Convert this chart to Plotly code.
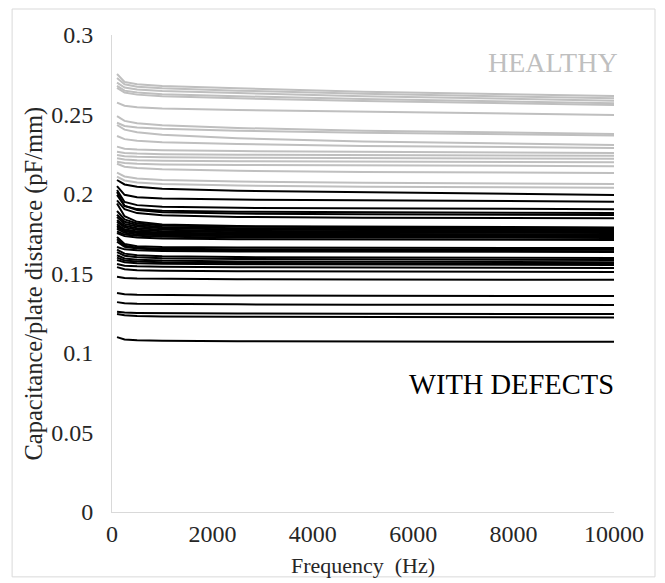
import plotly.graph_objects as go

# Frequencies (Hz) at which each curve is sampled
freq = [100, 250, 500, 1000, 2500, 5000, 10000]

# Healthy specimens (capacitance / plate distance, pF/mm)
healthy = [
    [0.2755, 0.2705, 0.2690, 0.2680, 0.2665, 0.2643, 0.2616],
    [0.2730, 0.2690, 0.2675, 0.2665, 0.2650, 0.2630, 0.2602],
    [0.2700, 0.2670, 0.2658, 0.2648, 0.2635, 0.2615, 0.2587],
    [0.2680, 0.2650, 0.2638, 0.2628, 0.2615, 0.2597, 0.2570],
    [0.2667, 0.2638, 0.2625, 0.2615, 0.2602, 0.2585, 0.2560],
    [0.2575, 0.2555, 0.2545, 0.2537, 0.2528, 0.2518, 0.2497],
    [0.2490, 0.2460, 0.2445, 0.2432, 0.2415, 0.2398, 0.2378],
    [0.2448, 0.2428, 0.2418, 0.2410, 0.2398, 0.2385, 0.2368],
    [0.2434, 0.2405, 0.2388, 0.2372, 0.2350, 0.2330, 0.2308],
    [0.2365, 0.2345, 0.2335, 0.2325, 0.2315, 0.2302, 0.2290],
    [0.2298, 0.2285, 0.2280, 0.2275, 0.2270, 0.2265, 0.2258],
    [0.2266, 0.2258, 0.2254, 0.2250, 0.2247, 0.2244, 0.2240],
    [0.2245, 0.2238, 0.2234, 0.2231, 0.2228, 0.2225, 0.2222],
    [0.2225, 0.2217, 0.2213, 0.2209, 0.2206, 0.2203, 0.2200],
    [0.2203, 0.2195, 0.2190, 0.2186, 0.2182, 0.2179, 0.2175],
    [0.2190, 0.2172, 0.2163, 0.2155, 0.2146, 0.2139, 0.2132],
    [0.2134, 0.2110, 0.2098, 0.2088, 0.2078, 0.2070, 0.2063],
    [0.2109, 0.2085, 0.2073, 0.2063, 0.2053, 0.2046, 0.2040],
]

# Specimens with defects
defects = [
    [0.2088, 0.2060, 0.2045, 0.2033, 0.2020, 0.2010, 0.1994],
    [0.2050, 0.1995, 0.1980, 0.1972, 0.1965, 0.1960, 0.1952],
    [0.2025, 0.1950, 0.1930, 0.1920, 0.1913, 0.1909, 0.1904],
    [0.2013, 0.1925, 0.1905, 0.1895, 0.1888, 0.1884, 0.1880],
    [0.1994, 0.1925, 0.1900, 0.1885, 0.1877, 0.1872, 0.1868],
    [0.1960, 0.1905, 0.1880, 0.1866, 0.1856, 0.1851, 0.1847],
    [0.1940, 0.1860, 0.1825, 0.1808, 0.1798, 0.1794, 0.1790],
    [0.1893, 0.1840, 0.1815, 0.1802, 0.1794, 0.1790, 0.1786],
    [0.1870, 0.1825, 0.1805, 0.1793, 0.1785, 0.1781, 0.1778],
    [0.1855, 0.1812, 0.1795, 0.1784, 0.1777, 0.1773, 0.1770],
    [0.1836, 0.1800, 0.1785, 0.1775, 0.1768, 0.1765, 0.1762],
    [0.1825, 0.1790, 0.1775, 0.1766, 0.1760, 0.1757, 0.1754],
    [0.1810, 0.1778, 0.1765, 0.1757, 0.1751, 0.1748, 0.1746],
    [0.1800, 0.1772, 0.1760, 0.1752, 0.1747, 0.1744, 0.1742],
    [0.1790, 0.1765, 0.1754, 0.1747, 0.1742, 0.1740, 0.1738],
    [0.1780, 0.1756, 0.1746, 0.1740, 0.1735, 0.1732, 0.1730],
    [0.1765, 0.1745, 0.1737, 0.1731, 0.1727, 0.1725, 0.1723],
    [0.1755, 0.1735, 0.1726, 0.1720, 0.1715, 0.1713, 0.1711],
    [0.1730, 0.1685, 0.1672, 0.1666, 0.1663, 0.1661, 0.1660],
    [0.1715, 0.1675, 0.1662, 0.1656, 0.1653, 0.1651, 0.1650],
    [0.1700, 0.1668, 0.1657, 0.1650, 0.1645, 0.1642, 0.1640],
    [0.1667, 0.1652, 0.1646, 0.1642, 0.1639, 0.1637, 0.1635],
    [0.1650, 0.1625, 0.1615, 0.1608, 0.1603, 0.1600, 0.1597],
    [0.1635, 0.1612, 0.1602, 0.1596, 0.1591, 0.1588, 0.1585],
    [0.1615, 0.1595, 0.1587, 0.1581, 0.1576, 0.1573, 0.1570],
    [0.1600, 0.1582, 0.1575, 0.1570, 0.1566, 0.1563, 0.1560],
    [0.1585, 0.1571, 0.1565, 0.1561, 0.1558, 0.1555, 0.1553],
    [0.1560, 0.1549, 0.1545, 0.1542, 0.1539, 0.1537, 0.1535],
    [0.1540, 0.1527, 0.1521, 0.1517, 0.1514, 0.1512, 0.1510],
    [0.1480, 0.1472, 0.1468, 0.1466, 0.1464, 0.1462, 0.1460],
    [0.1377, 0.1369, 0.1366, 0.1364, 0.1362, 0.1360, 0.1358],
    [0.1320, 0.1313, 0.1310, 0.1308, 0.1306, 0.1304, 0.1302],
    [0.1260, 0.1254, 0.1252, 0.1250, 0.1248, 0.1247, 0.1245],
    [0.1245, 0.1237, 0.1233, 0.1230, 0.1228, 0.1226, 0.1224],
    [0.1100, 0.1085, 0.1080, 0.1077, 0.1074, 0.1072, 0.1070],
]

x_ticks = [0, 2000, 4000, 6000, 8000, 10000]
y_ticks = [0, 0.05, 0.1, 0.15, 0.2, 0.25, 0.3]
y_tick_text = ["0", "0.05", "0.1", "0.15", "0.2", "0.25", "0.3"]
label_healthy = "HEALTHY"
label_defects = "WITH DEFECTS"
x_title = "Frequency  (Hz)"
y_title = "Capacitance/plate distance (pF/mm)"

FONT = "Liberation Serif"

fig = go.Figure()
for ys in healthy:
    fig.add_trace(go.Scatter(x=freq, y=ys, mode="lines",
                             line=dict(color="#bfbfbf", width=2),
                             showlegend=False, hoverinfo="skip"))
for ys in defects:
    fig.add_trace(go.Scatter(x=freq, y=ys, mode="lines",
                             line=dict(color="#000000", width=2),
                             showlegend=False, hoverinfo="skip"))

fig.add_annotation(x=10000, y=0.283, xref="x", yref="y", text=label_healthy,
                   showarrow=False, xanchor="right", yanchor="middle", xshift=6,
                   font=dict(family=FONT, size=28, color="#bfbfbf"))
fig.add_annotation(x=10000, y=0.080, xref="x", yref="y", text=label_defects,
                   showarrow=False, xanchor="right", yanchor="middle", xshift=2,
                   font=dict(family=FONT, size=28.5, color="#000000"))

# y-axis title placed as rotated text
fig.add_annotation(x=-0.1554, y=0.479, xref="paper", yref="paper", text=y_title,
                   showarrow=False, textangle=-90, xanchor="center", yanchor="middle",
                   font=dict(family=FONT, size=24.5, color="#262626"))

# chart-area border
fig.add_shape(type="rect", xref="paper", yref="paper",
              x0=-0.199, x1=1.0817, y0=-0.136, y1=1.0545,
              line=dict(color="#d9d9d9", width=1), fillcolor="rgba(0,0,0,0)")

fig.update_layout(
    width=665, height=583,
    margin=dict(l=104, r=59, t=27, b=79, autoexpand=False),
    paper_bgcolor="white", plot_bgcolor="white",
    font=dict(family=FONT, size=22, color="#262626"),
    xaxis=dict(range=[0, 10000], tickvals=x_ticks,
               ticktext=[str(v) for v in x_ticks],
               tickfont=dict(family=FONT, size=24, color="#262626"),
               showgrid=False, zeroline=False, showline=True,
               linecolor="#d9d9d9", linewidth=1, ticks="", automargin=False,
               title=dict(text=x_title, standoff=11,
                          font=dict(family=FONT, size=22))),
    yaxis=dict(range=[0, 0.3], tickvals=y_ticks, ticktext=y_tick_text,
               tickfont=dict(family=FONT, size=24, color="#262626"),
               showgrid=False, zeroline=False, showline=True,
               linecolor="#d9d9d9", linewidth=1, ticks="", automargin=False,
               ticklabelstandoff=13),
)

fig.write_html("out.html")
